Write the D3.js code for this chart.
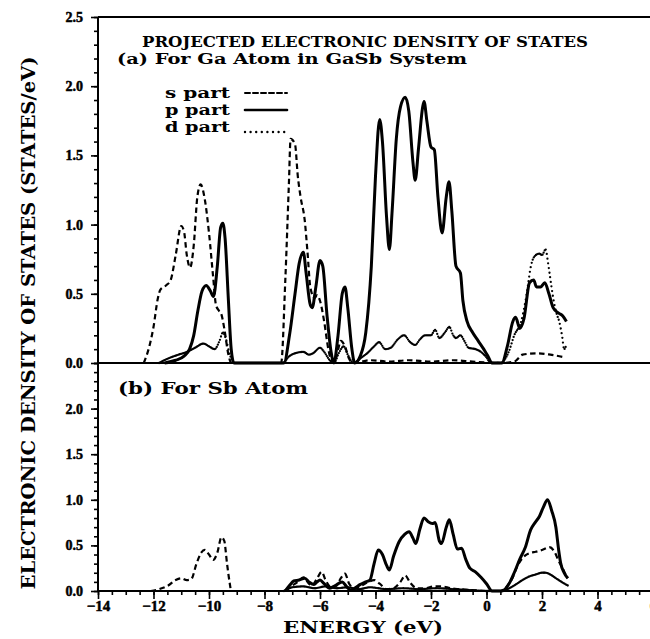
<!DOCTYPE html>
<meta charset="utf-8">
<head>
    <title>Projected electronic DOS - GaSb</title>
    <script src="https://d3js.org/d3.v7.min.js"></script>
</head>

<style>
body { margin: 0; background: #fff; }
svg { display: block; }
text { font-family: "DejaVu Serif", "Liberation Serif", serif; font-weight: bold; fill: #000; }
.tick text { font-family: "Liberation Serif", serif; stroke: #000; stroke-width: 0.5; }
.tick line { stroke: #000; stroke-width: 1.6; }
</style>

<body>
<svg></svg>
<script>

// tick values
let energyTicks = [-14, -12, -10, -8, -6, -4, -2, 0, 2, 4, 6];
let dosTicksA = [0, 0.5, 1.0, 1.5, 2.0, 2.5];
let dosTicksB = [0, 0.5, 1.0, 1.5, 2.0];

// (a) Ga atom : [energy eV, states/eV]
let gaS = [[-12.35,0],[-12.15,0.12],[-12.0,0.26],[-11.85,0.46],[-11.75,0.53],[-11.55,0.56],[-11.38,0.6],[-11.2,0.78],
  [-11.0,0.99],[-10.9,0.95],[-10.8,0.78],[-10.68,0.69],[-10.55,0.85],[-10.42,1.2],[-10.3,1.29],[-10.15,1.18],
  [-10.0,0.94],[-9.85,0.62],[-9.75,0.42],[-9.65,0.38],[-9.55,0.35],[-9.45,0.25],[-9.3,0.06],[-9.2,0],
  [-7.4,0],[-7.25,0.6],[-7.12,1.3],[-7.06,1.62],[-6.9,1.58],[-6.8,1.35],[-6.7,1.2],[-6.55,1.03],[-6.45,0.8],
  [-6.35,0.55],[-6.2,0.47],[-6.1,0.49],[-6.0,0.45],[-5.85,0.3],[-5.7,0.1],[-5.55,0],[-5.4,0.05],[-5.25,0.16],
  [-5.1,0.12],[-4.95,0.03],[-4.8,0],[-4.2,0.02],[-3.5,0.01],[-2.8,0.02],[-2.0,0.01],[-1.2,0.02],[-0.5,0.01],
  [0.5,0],[1.0,0.01],[1.3,0.06],[1.8,0.07],[2.3,0.06],[2.85,0.04]];

let gaP = [[-11.6,0],[-11.2,0.02],[-10.9,0.05],[-10.7,0.1],[-10.55,0.2],[-10.4,0.38],[-10.25,0.52],[-10.1,0.56],
  [-9.95,0.52],[-9.84,0.48],[-9.7,0.7],[-9.58,0.98],[-9.5,1.01],[-9.42,0.9],[-9.3,0.45],[-9.2,0.1],[-9.1,0],
  [-7.3,0],[-7.1,0.2],[-6.9,0.5],[-6.75,0.72],[-6.6,0.8],[-6.5,0.65],[-6.35,0.42],[-6.28,0.4],[-6.15,0.55],
  [-6.0,0.74],[-5.9,0.7],[-5.75,0.35],[-5.6,0.08],[-5.5,0],[-5.35,0.2],[-5.2,0.5],[-5.1,0.55],[-5.0,0.4],
  [-4.85,0.1],[-4.75,0],[-4.55,0.05],[-4.35,0.22],[-4.15,0.7],[-4.0,1.35],[-3.85,1.76],[-3.75,1.6],[-3.6,1.05],
  [-3.5,0.82],[-3.4,1.1],[-3.25,1.62],[-3.1,1.85],[-2.93,1.92],[-2.8,1.82],[-2.65,1.45],[-2.57,1.32],[-2.45,1.55],
  [-2.3,1.85],[-2.25,1.89],[-2.15,1.75],[-2.0,1.56],[-1.88,1.54],[-1.75,1.2],[-1.6,0.94],[-1.45,1.2],[-1.35,1.31],
  [-1.25,1.1],[-1.1,0.7],[-0.94,0.65],[-0.85,0.45],[-0.7,0.3],[-0.5,0.22],[-0.3,0.16],[-0.1,0.1],[0.05,0.05],
  [0.2,0],[0.55,0],[0.75,0.12],[0.95,0.3],[1.05,0.33],[1.2,0.25],[1.35,0.32],[1.55,0.58],[1.7,0.6],[1.8,0.55],
  [1.95,0.55],[2.1,0.58],[2.25,0.5],[2.4,0.4],[2.6,0.36],[2.75,0.34],[2.88,0.3]];

let gaD = [[-11.8,0],[-11.5,0.03],[-11.1,0.06],[-10.8,0.08],[-10.5,0.11],[-10.2,0.14],[-10.0,0.12],[-9.8,0.1],
  [-9.62,0.16],[-9.5,0.22],[-9.4,0.18],[-9.25,0.06],[-9.1,0],[-7.35,0],[-7.1,0.05],[-6.9,0.07],[-6.6,0.08],
  [-6.4,0.06],[-6.25,0.07],[-6.0,0.11],[-5.85,0.08],[-5.65,0.02],[-5.5,0],[-5.3,0.08],[-5.15,0.12],[-5.0,0.06],
  [-4.8,0],[-4.5,0.04],[-4.3,0.07],[-4.05,0.12],[-3.87,0.15],[-3.65,0.1],[-3.45,0.11],[-3.2,0.17],[-2.97,0.2],
  [-2.75,0.15],[-2.57,0.13],[-2.4,0.17],[-2.21,0.2],[-2.0,0.2],[-1.85,0.24],[-1.7,0.18],[-1.5,0.22],[-1.34,0.26],
  [-1.2,0.2],[-1.1,0.18],[-0.94,0.2],[-0.8,0.16],[-0.65,0.11],[-0.4,0.1],[-0.2,0.08],[0.0,0.04],[0.15,0],
  [0.5,0],[0.8,0.08],[1.0,0.2],[1.25,0.3],[1.45,0.5],[1.6,0.7],[1.73,0.77],[1.9,0.79],[2.0,0.78],[2.13,0.82],
  [2.22,0.72],[2.32,0.58],[2.42,0.45],[2.52,0.36],[2.62,0.3],[2.72,0.2],[2.8,0.1],[2.86,0.12]];

// (b) Sb atom
let sbS = [[-12.1,0],[-11.8,0.02],[-11.47,0.06],[-11.2,0.12],[-11.0,0.14],[-10.8,0.12],[-10.64,0.13],[-10.45,0.3],
  [-10.28,0.42],[-10.15,0.45],[-10.0,0.4],[-9.85,0.34],[-9.7,0.42],[-9.55,0.59],[-9.45,0.55],[-9.35,0.3],
  [-9.25,0.08],[-9.2,0],[-7.3,0],[-7.0,0.06],[-6.8,0.1],[-6.6,0.15],[-6.4,0.08],[-6.3,0.06],[-6.1,0.14],
  [-5.94,0.21],[-5.8,0.12],[-5.6,0.04],[-5.4,0.06],[-5.25,0.14],[-5.1,0.19],[-4.95,0.08],[-4.75,0.03],[-4.5,0.06],
  [-4.25,0.1],[-4.05,0.12],[-3.85,0.08],[-3.6,0.02],[-3.35,0.03],[-3.1,0.1],[-2.93,0.17],[-2.75,0.09],[-2.5,0.03],
  [-2.2,0.03],[-1.9,0.05],[-1.6,0.05],[-1.3,0.03],[-1.0,0.02],[-0.5,0.01],[0,0],[0.5,0],[0.7,0.04],[0.83,0.09],
  [0.95,0.15],[1.05,0.23],[1.2,0.32],[1.4,0.39],[1.6,0.42],[1.77,0.43],[2.0,0.45],[2.27,0.48],[2.45,0.43],
  [2.6,0.33],[2.74,0.25],[2.85,0.18],[2.93,0.14]];

let sbP = [[-7.25,0],[-7.1,0.06],[-6.95,0.11],[-6.75,0.12],[-6.55,0.14],[-6.4,0.1],[-6.22,0.07],[-6.1,0.1],
  [-6.0,0.12],[-5.85,0.08],[-5.65,0.03],[-5.45,0.06],[-5.2,0.1],[-5.05,0.05],[-4.9,0.01],[-4.7,0.04],[-4.56,0.07],
  [-4.35,0.1],[-4.2,0.12],[-4.05,0.3],[-3.9,0.45],[-3.75,0.4],[-3.6,0.28],[-3.5,0.23],[-3.35,0.38],[-3.15,0.54],
  [-2.95,0.62],[-2.79,0.65],[-2.65,0.58],[-2.55,0.52],[-2.4,0.68],[-2.25,0.8],[-2.1,0.76],[-1.95,0.74],[-1.85,0.75],
  [-1.7,0.55],[-1.62,0.52],[-1.45,0.7],[-1.34,0.78],[-1.2,0.62],[-1.05,0.46],[-0.9,0.47],[-0.75,0.35],[-0.6,0.25],
  [-0.4,0.21],[-0.2,0.15],[0.0,0.08],[0.2,0],[0.55,0],[0.7,0.03],[0.85,0.1],[1.0,0.2],[1.2,0.35],[1.4,0.48],
  [1.59,0.67],[1.75,0.75],[1.91,0.82],[2.05,0.92],[2.2,1.0],[2.35,0.88],[2.5,0.7],[2.6,0.45],[2.67,0.31],
  [2.8,0.2],[2.93,0.14]];

let sbD = [[-7.3,0],[-7.0,0.04],[-6.6,0.05],[-6.2,0.03],[-5.8,0.05],[-5.4,0.03],[-5.0,0.04],[-4.6,0.02],[-4.2,0.04],
  [-3.6,0.02],[-3.0,0.03],[-2.4,0.02],[-1.8,0.03],[-1.2,0.02],[-0.6,0.01],[0,0],[0.5,0],[0.75,0.02],[0.94,0.05],
  [1.1,0.08],[1.3,0.12],[1.55,0.16],[1.77,0.18],[2.0,0.2],[2.13,0.2],[2.3,0.18],[2.5,0.14],[2.7,0.1],[2.93,0.06]];

let width = 650, height = 639;
let plotLeft = 98, plotRight = 653;
let plotTop = 17, plotMid = 363, plotBottom = 591;

let svg = d3.select("svg").attr("width", width).attr("height", height);

let x = d3.scaleLinear().domain([-14, 6]).range([plotLeft, plotRight]);
let ya = d3.scaleLinear().domain([0, 2.5]).range([plotMid, plotTop]);
let yb = d3.scaleLinear().domain([0, 2.5]).range([plotBottom, plotMid]);

let lineFor = y => d3.line().x(d => x(d[0])).y(d => y(d[1])).curve(d3.curveMonotoneX);

// old plotter style dots: one dot per pixel step in x, so flat parts look solid
function plotDots(g, data, y) {
  let p = g.append("path").attr("d", lineFor(y)(data)).attr("fill", "none");
  let node = p.node(), len = node.getTotalLength();
  let pts = [], last = null;
  for (let s = 0; s <= len; s += 0.25) {
    let q = node.getPointAtLength(s);
    if (!last || q.x - last.x >= 1 || Math.hypot(q.x - last.x, q.y - last.y) >= 4.5) {
      pts.push({x: q.x, y: q.y});
      last = q;
    }
  }
  p.remove();
  g.selectAll(null).data(pts).enter().append("circle")
    .attr("cx", d => d.x).attr("cy", d => d.y).attr("r", 1.15).attr("fill", "#000");
}

function drawPanel(y, s, p, dd) {
  let g = svg.append("g");
  g.append("path").attr("d", lineFor(y)(s)).attr("fill", "none").attr("stroke", "#000")
    .attr("stroke-width", 2.2).attr("stroke-dasharray", "5.5,3.5");
  g.append("path").attr("d", lineFor(y)(p)).attr("fill", "none").attr("stroke", "#000")
    .attr("stroke-width", 3).attr("stroke-linejoin", "round");
  plotDots(g, dd, y);
}

drawPanel(ya, gaS, gaP, gaD);
drawPanel(yb, sbS, sbP, sbD);

// frame lines
[plotTop, plotMid, plotBottom].forEach(yy => {
  svg.append("line").attr("x1", plotLeft).attr("x2", width).attr("y1", yy).attr("y2", yy)
    .attr("stroke", "#000").attr("stroke-width", 2);
});
svg.append("line").attr("x1", plotLeft).attr("x2", plotLeft).attr("y1", plotTop).attr("y2", plotBottom)
  .attr("stroke", "#000").attr("stroke-width", 2);

// x axis
svg.append("g").attr("transform", "translate(0," + plotBottom + ")")
  .call(d3.axisBottom(x).tickValues(d3.range(-14, 6.01, 0.5)).tickSize(4).tickFormat(""))
  .call(g => g.select(".domain").remove());
svg.append("g").attr("transform", "translate(0," + plotBottom + ")")
  .call(d3.axisBottom(x).tickValues(energyTicks).tickSize(8).tickPadding(1).tickFormat(d3.format("d")))
  .call(g => g.select(".domain").remove())
  .selectAll("text").attr("font-size", 15);

// y axes
function yAxis(y, labels) {
  svg.append("g").attr("transform", "translate(" + plotLeft + ",0)")
    .call(d3.axisLeft(y).tickValues(d3.range(0, 2.51, 0.1)).tickSize(4).tickFormat(""))
    .call(g => g.select(".domain").remove());
  svg.append("g").attr("transform", "translate(" + plotLeft + ",0)")
    .call(d3.axisLeft(y).tickValues(labels).tickSize(7).tickPadding(8).tickFormat(d3.format(".1f")))
    .call(g => g.select(".domain").remove())
    .selectAll("text").attr("font-size", 14);
}
yAxis(ya, dosTicksA);
yAxis(yb, dosTicksB);

// titles
svg.append("text").attr("x", 142).attr("y", 47).attr("font-size", 15)
  .attr("textLength", 446).attr("lengthAdjust", "spacingAndGlyphs")
  .text("PROJECTED  ELECTRONIC  DENSITY  OF  STATES");
svg.append("text").attr("x", 117).attr("y", 64).attr("font-size", 15)
  .attr("textLength", 350).attr("lengthAdjust", "spacingAndGlyphs")
  .text("(a)  For  Ga  Atom  in  GaSb  System");
svg.append("text").attr("x", 118).attr("y", 394).attr("font-size", 16)
  .attr("textLength", 190).attr("lengthAdjust", "spacingAndGlyphs")
  .text("(b)  For  Sb  Atom");

// legend
let legend = [
  {name: "s  part", y: 98, dash: "5,3", w: 2},
  {name: "p  part", y: 115, dash: null, w: 2.6},
  {name: "d  part", y: 132, dash: "0,5.6", w: 2.4}
];
legend.forEach(l => {
  let ly = l.name[0] === "d" ? l.y : l.y - 5;
  svg.append("text").attr("x", 165).attr("y", l.y).attr("font-size", 14)
    .attr("textLength", 65).attr("lengthAdjust", "spacingAndGlyphs").text(l.name);
  svg.append("line").attr("x1", 245).attr("x2", 287).attr("y1", ly).attr("y2", ly)
    .attr("stroke", "#000").attr("stroke-width", l.w).attr("stroke-linecap", "round")
    .attr("stroke-dasharray", l.dash);
});

// axis titles
svg.append("text").attr("x", 363).attr("y", 633).attr("text-anchor", "middle").attr("font-size", 17)
  .attr("textLength", 160).attr("lengthAdjust", "spacingAndGlyphs").text("ENERGY  (eV)");
svg.append("text").attr("transform", "translate(35,323) rotate(-90)").attr("text-anchor", "middle")
  .attr("font-size", 19).attr("textLength", 533).attr("lengthAdjust", "spacingAndGlyphs")
  .text("ELECTRONIC  DENSITY  OF  STATES  (STATES/eV)");

</script>
</body>
